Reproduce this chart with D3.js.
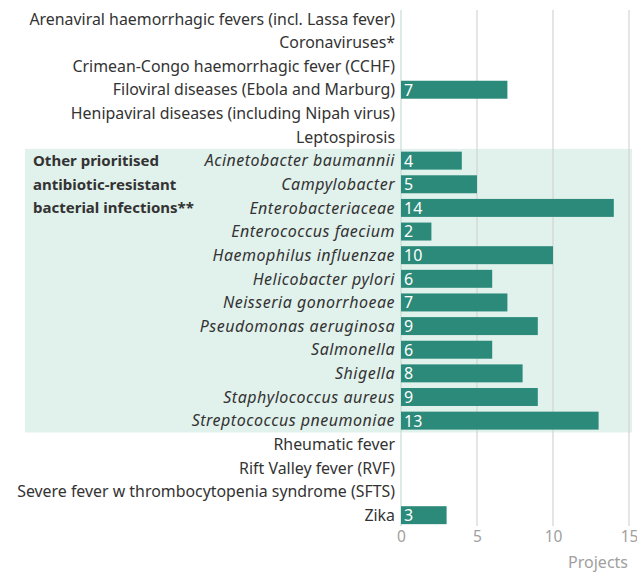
<!DOCTYPE html>
<html>
<head>
<meta charset="utf-8">
<script src="https://cdn.jsdelivr.net/npm/d3@7.9.0/dist/d3.min.js"></script>
<style>
  body { margin: 0; background: #fff; }
  svg { font-family: "Noto Sans", "Open Sans", sans-serif; display: block; }
</style>
</head>
<body>
<div id="chart"></div>
<script>
const categories = [
  'Arenaviral haemorrhagic fevers (incl. Lassa fever)',
  'Coronaviruses*',
  'Crimean-Congo haemorrhagic fever (CCHF)',
  'Filoviral diseases (Ebola and Marburg)',
  'Henipaviral diseases (including Nipah virus)',
  'Leptospirosis',
  'Acinetobacter baumannii',
  'Campylobacter',
  'Enterobacteriaceae',
  'Enterococcus faecium',
  'Haemophilus influenzae',
  'Helicobacter pylori',
  'Neisseria gonorrhoeae',
  'Pseudomonas aeruginosa',
  'Salmonella',
  'Shigella',
  'Staphylococcus aureus',
  'Streptococcus pneumoniae',
  'Rheumatic fever',
  'Rift Valley fever (RVF)',
  'Severe fever w thrombocytopenia syndrome (SFTS)',
  'Zika'
];
const projects = [0, 0, 0, 7, 0, 0, 4, 5, 14, 2, 10, 6, 7, 9, 6, 8, 9, 13, 0, 0, 0, 3];
// bacteria rows belong to the highlighted group
const groupRows = categories.slice(6, 18);
const groupLabel = ['Other prioritised', 'antibiotic-resistant', 'bacterial infections**'];
const xTicks = [0, 5, 10, 15];

const width = 637, height = 574;
const svg = d3.select('#chart').append('svg')
  .attr('width', width).attr('height', height);

const x = d3.scaleLinear().domain([0, 15]).range([401, 629]);
const y = d3.scaleBand().domain(categories).range([7, 527]).paddingInner(0.24).paddingOuter(0.12);

// group highlight
const gTop = y(groupRows[0]) - y.step() * y.paddingInner() / 2;
const gBot = y(groupRows[groupRows.length - 1]) + y.bandwidth() + y.step() * y.paddingInner() / 2;
svg.append('rect')
  .attr('x', 25).attr('y', gTop)
  .attr('width', 632 - 25).attr('height', gBot - gTop)
  .attr('fill', '#e1f1ec');

// gridlines
svg.append('g')
  .selectAll('line')
  .data(xTicks.slice(1))
  .join('line')
  .attr('x1', d => x(d)).attr('x2', d => x(d))
  .attr('y1', 10).attr('y2', 526)
  .attr('stroke', '#d4d4d4').attr('stroke-width', 1.2);

svg.append('line')
  .attr('x1', x(0)).attr('x2', x(0))
  .attr('y1', 10).attr('y2', 526)
  .attr('stroke', '#c9dcd6').attr('stroke-width', 1.2);

const barData = categories.map((c, i) => ({ c, v: projects[i] })).filter(d => d.v > 0);

// bars
svg.append('g')
  .selectAll('rect')
  .data(barData)
  .join('rect')
  .attr('x', x(0))
  .attr('y', d => y(d.c))
  .attr('width', d => x(d.v) - x(0))
  .attr('height', y.bandwidth())
  .attr('fill', '#2b8a79');

svg.append('g')
  .selectAll('text')
  .data(barData)
  .join('text')
  .attr('x', x(0) + 3)
  .attr('y', d => y(d.c) + y.bandwidth() / 2)
  .attr('dy', '0.37em')
  .attr('fill', '#fff')
  .attr('font-size', 16)
  .text(d => d.v);

// category labels
svg.append('g')
  .selectAll('text')
  .data(categories)
  .join('text')
  .attr('x', 395)
  .attr('y', d => y(d) + y.bandwidth() / 2)
  .attr('dy', '0.36em')
  .attr('text-anchor', 'end')
  .attr('fill', '#333')
  .attr('font-size', d => groupRows.includes(d) ? 16 : 15.9)
  .attr('letter-spacing', d => groupRows.includes(d) ? 0.5 : 0)
  .attr('font-style', d => groupRows.includes(d) ? 'italic' : 'normal')
  .text(d => d);

svg.append('g')
  .selectAll('text')
  .data(groupLabel)
  .join('text')
  .attr('x', 33)
  .attr('y', (d, i) => y(groupRows[0]) + y.bandwidth() / 2 + i * y.step())
  .attr('dy', '0.36em')
  .attr('fill', '#333')
  .attr('font-size', 15)
  .attr('font-weight', 'bold')
  .text(d => d);

// x axis
const xAxis = svg.append('g')
  .attr('transform', 'translate(0,530)')
  .call(d3.axisBottom(x).tickValues(xTicks).tickSize(0).tickPadding(1));
xAxis.select('.domain').remove();
xAxis.selectAll('text')
  .attr('font-size', 15.5)
  .attr('font-family', '"Noto Sans", sans-serif')
  .attr('fill', '#a0a0a0');

svg.append('text')
  .attr('x', 628).attr('y', 568)
  .attr('text-anchor', 'end')
  .attr('fill', '#a0a0a0')
  .attr('font-size', 16)
  .text('Projects');
</script>
</body>
</html>
